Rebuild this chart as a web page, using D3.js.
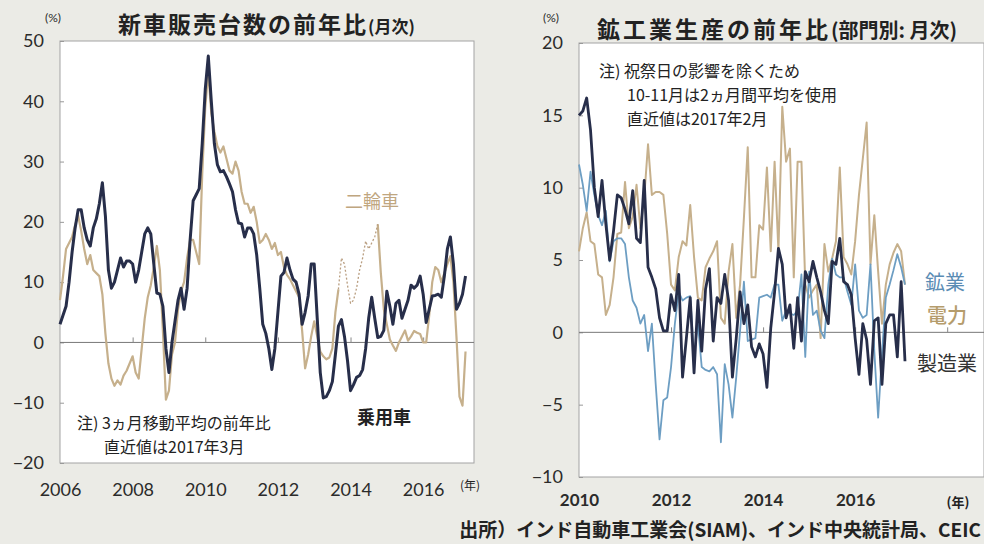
<!DOCTYPE html>
<html lang="ja">
<head>
  <meta charset="UTF-8">
  <title>インド 新車販売台数・鉱工業生産</title>
  <script src="https://d3js.org/d3.v7.min.js"></script>
  <style>
    body {
      margin: 0;
      background-color: #ebebe6;
    }
    svg { display: block; }
    .num { font-family: Lato, 'Open Sans', sans-serif; fill: #2b2b2b; }
    .jp { font-family: 'Noto Sans CJK JP', sans-serif; fill: #222; }
  </style>
</head>
<body>
  <svg id="chart" width="984" height="544"></svg>

  <script>
    // 新車販売台数の前年比 (3ヵ月移動平均, 2006年1月〜2017年3月, %)
    const carStart = 2006;
    const carTicksX = [2006, 2008, 2010, 2012, 2014, 2016];
    const carTicksY = [-20, -10, 0, 10, 20, 30, 40, 50];
    const passengerCars = [
      3, 4.5, 6, 10, 15, 19, 22, 22, 19, 17, 16, 19,
      20.5, 23, 26.5, 21, 12, 9, 10, 12, 14, 12.5, 13.5, 13.5,
      13, 10, 12, 15, 18, 19, 18, 13, 8.2, 8, 6, -1,
      -5, 0, 3.5, 7, 9, 5.5, 9, 17, 23.5, 24.5, 25.5, 33,
      42, 47.5, 40, 33, 29.5, 28.3, 28.5, 27.5, 26.3, 25, 22, 19.8,
      19.7, 17.5, 19, 19, 18, 14.5, 9, 3, 1.5, -1, -4.5, -1,
      5, 11, 11.6, 14, 12, 10.5, 10, 8, 3, 5, 7.7, 13,
      13, 4, -5, -9.2, -9, -8, -6.5, -2, 2.7, 3.8, 1, -3,
      -8, -7, -5.8, -5.5, -4.5, -1, 4, 7.5, 4, 0.8, 1, 2,
      8.5, 6, 3, 6.5, 7, 4, 5.5, 7, 9.5, 9, 9.5, 11,
      8, 3.3, 5.5, 7.7, 7.8, 8, 7.5, 11, 15.5, 17.5, 13, 5.5,
      6.5, 8, 11
    ];
    const twoWheelers = [
      7, 11, 15.5, 16.5, 17.5, 19.5, 21, 18.5, 15.5, 13, 14.5, 12,
      11.5, 11, 8, 1.5, -3.5, -6, -7.2, -6.3, -7, -5.5, -4.7, -3.5,
      -2.3, -5, -6, -1, 4, 7.5, 9.5, 12.5, 16, 12, 2, -9.5,
      -8, -2, 0, 5.5, 8.5, 10, 14, 17, 17, 15, 13, 28,
      39, 45, 38, 35, 32.6, 31.5, 32.5, 30.5, 28.5, 28, 30, 28.5,
      25, 23, 23, 21.5, 22.5, 20, 16.5, 17, 18, 17, 15.5, 16.5,
      14.5, 15, 12.5, 11.2, 10.5, 9.5, 8.5, 7.5, 2, -4.3, -2, 1,
      3.5, 1, -1.5, -2.3, -2.8, -2.5, -1, 5, 8.8, 14, 13, 9.5,
      6.5, 7, 9, 12, 14, 16.8, 15.5, 16.5, 17.5, 19.6, 11.6, 5.5,
      3, 0.5, -0.5, -1.4, 0, 1, 2, 0.3, 1, 1.9, 1.6, 1.4,
      0, 0, 4.5, 10, 12.5, 12, 10, 11.5, 13, 14.3, 10, 1,
      -9, -10.5, -1.5
    ];
    // 二輪車のうち点線で描かれている区間 (月の番号)
    const twoWheelerDotted = [92, 105];

    // 鉱工業生産の前年比 (部門別, 2010年1月〜2017年2月, %)
    const indStart = 2010;
    const indTicksX = [2010, 2012, 2014, 2016];
    const indTicksY = [-10, -5, 0, 5, 10, 15, 20];
    const manufacturing = [
      15, 15.3, 16.2, 14, 10, 8, 10.5, 7.5, 5, 7, 9.5, 9.3,
      8.5, 7.5, 9.8, 6.5, 6.2, 10.5, 4.5, 3.8, 3, 1, 0.1, 0.1,
      2.6, 1.5, 4, -3.1, -0.4, 2.4, -2.8, 2.2, -1.3, 3, 4.4, -0.6,
      2.4, 2, 4, 2.2, -3.1, -0.4, 2.8, 0.6, 1.9, -1, -1.7, -0.8,
      -1.5, -3.8, 0.3, 2.8, 5.8, 4.7, 1, 1.9, -1.1, 2.4, -0.6, 4.2,
      3.5, 4.9, 3.8, 2.8, 1.5, 0.6, 4.9, 4.7, 6.5, 3.5, 3.3, 2.6,
      -0.4, -2.9, 0.6, -0.5, -3.6, 0.8, 1, -3.6, 0.6, 1.2, 1.2, -1.7,
      3.5, -2
    ];
    const mining = [
      11.6, 10.2, 8.4, 11.1, 9.5, 8.1, 7.4, 8.4, 4.9, 6.3, 6.5, 6.5,
      6.1, 3.8, 2.2, 1.7, 0.6, 1.2, -1.3, 0.6, -3.6, -7.4, -4.7, -4.5,
      -2.4, 0.6, 2.8, 2.2, 2.4, 2.5, -1.7, 0.6, -2.4, -2.6, -2.7, -2.4,
      -2.9, -7.6, -2.2, -3.6, -5.9, -3.1, 0.1, 3.5, -0.6, -0.5, -0.4, 2.4,
      2.5, 2.6, 2.4, 3.3, 3.3, 0.8, 1.5, 1.3, 1.2, 1.5, 4, -1.7,
      4.2, 1.2, 1.5, 0.1, -0.4, 3.3, 5.1, 4, 3.8, 3.8, 2.8, 1.9,
      4.7, 1.5, 1, 1.2, 4.7, -1.3, -5.9, -1.5, 2.4, 3.3, 4.3, 5.4,
      4.5, 3.3
    ];
    const electricity = [
      5.6, 7.2, 8.3, 6.3, 6.1, 4, 3.8, 1.2, 1.9, 3.8, 6.8, 6.9,
      10.4, 7.2, 8, 10.2, 7.2, 9.3, 13, 9.5, 9.7, 9.7, 9.5, 6.8,
      3.3, 2.9, 5.2, 6.3, 6, 8.8, 5.2, 2.4, 2.2, 4.5, 5.1, 5.6,
      6.3, 1, 0.6, 4.2, 6.1, 1, 3.3, 7.9, 12.8, 3.8, 3.8, 7.4,
      7.1, 11.4, 5.6, 11.8, 5.6, 15.6, 11.8, 12.7, 3.8, 11.8, 11.8, 3.3,
      2.4, 2.9, 3.3, -0.4, 6.1, 4.2, 5.1, 6.3, 11.4, 5.2, 4.7, 4,
      6.3, 9.5, 12, 14.5, 4.7, 8.1, 4.2, 0.6, 3.3, 4.7, 5.5, 6.1,
      5.6, 3.3
    ];

    const navy = "#272e4a";
    const tan = "#c6b08c";
    const blue = "#6d9ec3";

    const svg = d3.select("#chart");

    function panel(opt) {
      const g = svg.append("g");
      const x = d3.scaleLinear().domain(opt.xDomain).range([opt.left, opt.right]);
      const y = d3.scaleLinear().domain(opt.yDomain).range([opt.bottom, opt.top]);

      g.append("rect")
        .attr("x", opt.left).attr("y", opt.top)
        .attr("width", opt.right - opt.left).attr("height", opt.bottom - opt.top)
        .attr("fill", "#fff").attr("stroke", "#a3a3a3");

      // y axis: ticks pointing inside, labels on the left
      const ya = g.append("g").attr("transform", `translate(${opt.left},0)`)
        .call(d3.axisLeft(y).tickValues(opt.yTicks).tickSize(-4).tickPadding(opt.yPad));
      ya.select(".domain").remove();
      ya.selectAll("line").attr("stroke", "#999");
      ya.selectAll("text").attr("class", "num").style("font-size", "18px");

      // zero line with small ticks
      const za = g.append("g").attr("transform", `translate(0,${y(0)})`)
        .call(d3.axisBottom(x).tickValues(opt.zeroTicks).tickSize(-5).tickFormat(""));
      za.select(".domain").attr("stroke", "#777").attr("d", `M${opt.left},0H${opt.right}`);
      za.selectAll("line").attr("stroke", "#888");

      // x labels
      const xa = g.append("g").attr("transform", `translate(0,${opt.bottom})`)
        .call(d3.axisBottom(x).tickValues(opt.xTicks).tickSize(0).tickPadding(opt.xPad).tickFormat(d3.format("d")));
      xa.select(".domain").remove();
      xa.selectAll("text").attr("class", "num").style("font-size", opt.xSize + "px")
        .style("font-weight", opt.xBold ? "700" : "400");

      return { g, x, y };
    }

    function drawLine(p, start, values, color, width, defined, dash) {
      const line = d3.line()
        .defined((d, i) => defined ? defined(i) : true)
        .x((d, i) => p.x(start + i / 12))
        .y(d => p.y(d));
      p.g.append("path")
        .datum(values)
        .attr("fill", "none")
        .attr("stroke", color)
        .attr("stroke-width", width)
        .attr("stroke-linejoin", "round")
        .attr("stroke-dasharray", dash || null)
        .attr("d", line);
    }

    // ---- left: 新車販売台数 ----
    const left = panel({
      left: 60, right: 474, top: 41, bottom: 463,
      xDomain: [2006, 2017.4], yDomain: [-20, 50],
      xTicks: carTicksX, yTicks: carTicksY, zeroTicks: [2008, 2010, 2012, 2014, 2016],
      yPad: 16, xPad: 20, xSize: 18, xBold: false
    });
    const [d0, d1] = twoWheelerDotted;
    drawLine(left, carStart, twoWheelers, tan, 2.2, i => i <= d0 || i >= d1);
    drawLine(left, carStart, twoWheelers, "#b99e80", 1.3, i => i >= d0 && i <= d1, "2,2");
    drawLine(left, carStart, passengerCars, navy, 3);

    // ---- right: 鉱工業生産 ----
    const right = panel({
      left: 579, right: 984, top: 43, bottom: 477,
      xDomain: [2010, 2018.8], yDomain: [-10, 20],
      xTicks: indTicksX, yTicks: indTicksY, zeroTicks: [2012, 2014, 2016, 2018],
      yPad: 16, xPad: 17, xSize: 17, xBold: true
    });
    drawLine(right, indStart, electricity, tan, 2);
    drawLine(right, indStart, mining, blue, 1.8);
    drawLine(right, indStart, manufacturing, navy, 2.8);

    // ---- titles and units ----
    const t1 = svg.append("text").attr("class", "jp").attr("x", 118).attr("y", 33)
      .style("font-size", "23px").style("font-weight", "600");
    t1.append("tspan").style("letter-spacing", "2px").text("新車販売台数の前年比");
    t1.append("tspan").style("font-size", "17px").text("(月次)");

    const t2 = svg.append("text").attr("class", "jp").attr("x", 597).attr("y", 38)
      .style("font-size", "23px").style("font-weight", "600");
    t2.append("tspan").style("letter-spacing", "3px").text("鉱工業生産の前年比");
    t2.append("tspan").style("font-size", "20px").text("(部門別: 月次)");

    svg.append("text").attr("class", "num").attr("x", 53).attr("y", 22).attr("text-anchor", "middle")
      .style("font-size", "12px").text("(%)");
    svg.append("text").attr("class", "num").attr("x", 551).attr("y", 22).attr("text-anchor", "middle")
      .style("font-size", "12px").text("(%)");
    svg.append("text").attr("class", "jp").attr("x", 470).attr("y", 490).attr("text-anchor", "middle")
      .style("font-size", "12px").text("(年)");
    svg.append("text").attr("class", "jp").attr("x", 958).attr("y", 507).attr("text-anchor", "middle")
      .style("font-size", "13px").style("font-weight", "700").text("(年)");

    // ---- notes and series labels ----
    function note(x, y, txt, size, color, weight) {
      svg.append("text").attr("class", "jp").attr("x", x).attr("y", y)
        .attr("dominant-baseline", "central")
        .style("font-size", size + "px")
        .style("fill", color || "#222")
        .style("font-weight", weight || "400")
        .text(txt);
    }
    note(77, 422, "注) 3ヵ月移動平均の前年比", 16);
    note(104, 446, "直近値は2017年3月", 16);
    note(357, 416, "乗用車", 18, "#222", "700");
    note(345, 200, "二輪車", 18, "#bfa680");

    note(599, 70, "注) 祝祭日の影響を除くため", 16);
    note(627, 94, "10-11月は2ヵ月間平均を使用", 16);
    note(627, 118, "直近値は2017年2月", 16);
    note(925, 281, "鉱業", 20, "#5a8cb4");
    note(927, 314, "電力", 20, "#b59c6c", "500");
    note(917, 362, "製造業", 20, "#333");

    svg.append("text").attr("class", "jp").attr("x", 981).attr("y", 537).attr("text-anchor", "end")
      .style("font-size", "19px").style("font-weight", "700")
      .text("出所）インド自動車工業会(SIAM)、インド中央統計局、CEIC");
  </script>
</body>
</html>
